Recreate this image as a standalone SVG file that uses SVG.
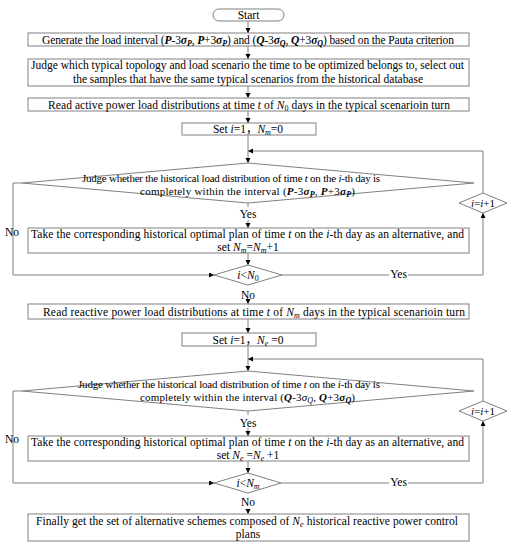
<svg xmlns="http://www.w3.org/2000/svg" width="512" height="550" viewBox="0 0 512 550">
<style>
.box{fill:#fff;stroke:#808080;stroke-width:1}
.ln{fill:none;stroke:#808080;stroke-width:1}
text{font-family:"Liberation Serif","Noto Sans CJK SC",serif;font-size:11.5px;fill:#000}
.c{text-anchor:middle}
.d{font-size:11px}
.bi{font-weight:bold;font-style:italic}
.i{font-style:italic}
.s{font-size:8px}
</style>
<defs>
<marker id="ah" markerUnits="userSpaceOnUse" markerWidth="6" markerHeight="6" refX="5" refY="2.5" orient="auto">
<path d="M0,0 L5,2.5 L0,5 z" fill="#000"/>
</marker>
</defs>
<rect width="512" height="550" fill="#fff"/>
<g id="connectors" class="ln">
<path d="M248,21 V33" marker-end="url(#ah)"/>
<path d="M248,46 V59" marker-end="url(#ah)"/>
<path d="M248,86 V98" marker-end="url(#ah)"/>
<path d="M248,111 V123" marker-end="url(#ah)"/>
<path d="M248,135 V163" marker-end="url(#ah)"/>
<path d="M483,193 V151 H248" marker-end="url(#ah)"/>
<path d="M248,203 V207"/>
<path d="M248,220 V228" marker-end="url(#ah)"/>
<path d="M248,253 V265" marker-end="url(#ah)"/>
<path d="M282,275 H389"/>
<path d="M408,275 H483 V213" marker-end="url(#ah)"/>
<path d="M22,183 H13 V275 H214" marker-end="url(#ah)"/>
<path d="M248,300 V304" marker-end="url(#ah)"/>
<path d="M248,319 V333" marker-end="url(#ah)"/>
<path d="M248,346 V371" marker-end="url(#ah)"/>
<path d="M483,401 V359 H248" marker-end="url(#ah)"/>
<path d="M248,411 V415"/>
<path d="M248,428 V436" marker-end="url(#ah)"/>
<path d="M248,461 V473" marker-end="url(#ah)"/>
<path d="M281,483 H389"/>
<path d="M408,483 H483 V421" marker-end="url(#ah)"/>
<path d="M22,391 H13 V483 H214" marker-end="url(#ah)"/>
<path d="M248,509 V514" marker-end="url(#ah)"/>
</g>
<g id="labels">
<text class="c" x="248" y="218">Yes</text>
<text class="c" x="398.5" y="278">Yes</text>
<text class="c" x="12" y="236">No</text>
<text class="c" x="248" y="299">No</text>
<text class="c" x="248" y="426.5">Yes</text>
<text class="c" x="398.5" y="486">Yes</text>
<text class="c" x="12" y="443">No</text>
<text class="c" x="248" y="506">No</text>
</g>
<g id="start">
<rect class="box" x="213" y="9" width="71" height="12" rx="6"/>
<text class="c" x="248.5" y="19">Start</text>
</g>
<g id="generate">
<rect class="box" x="28" y="33" width="441" height="13"/>
<text x="42" y="43.5" textLength="412" lengthAdjust="spacing">Generate the load interval (<tspan class="bi">P</tspan>-3<tspan class="bi">σ</tspan><tspan class="bi s" dy="2">P</tspan><tspan dy="-2">, </tspan><tspan class="bi">P</tspan>+3<tspan class="bi">σ</tspan><tspan class="bi s" dy="2">P</tspan><tspan dy="-2">)  and (</tspan><tspan class="bi">Q</tspan>-3<tspan class="bi">σ</tspan><tspan class="bi s" dy="2">Q</tspan><tspan dy="-2">, </tspan><tspan class="bi">Q</tspan>+3<tspan class="bi">σ</tspan><tspan class="bi s" dy="2">Q</tspan><tspan dy="-2">) based on the Pauta criterion</tspan></text>
</g>
<g id="judge-scenario">
<rect class="box" x="28" y="59" width="441" height="27"/>
<text x="31" y="69" textLength="433" lengthAdjust="spacing">Judge which typical topology and load scenario the time to be optimized  belongs to, select out</text>
<text x="73" y="82.5" textLength="350" lengthAdjust="spacing">the samples that have the same typical scenarios from the historical database</text>
</g>
<g id="read-active">
<rect class="box" x="28" y="98" width="441" height="13"/>
<text x="48" y="108.5" textLength="402" lengthAdjust="spacing">Read active power load distributions at time <tspan class="i">t</tspan> of <tspan class="i">N</tspan><tspan class="s" dy="2">0</tspan><tspan dy="-2"> days in the typical scenarioin turn</tspan></text>
</g>
<g id="set-nm">
<rect class="box" x="182" y="123" width="134" height="12"/>
<text class="c" x="248" y="133">Set <tspan class="i">i</tspan>=1，<tspan class="i">N</tspan><tspan class="i s" dy="2">m</tspan><tspan dy="-2">=0</tspan></text>
</g>
<g id="judge-p">
<polygon class="box" points="22,183 248,163 474,183 248,203"/>
<text class="d" x="82" y="181.5" textLength="298" lengthAdjust="spacing">Judge whether the historical load distribution of time <tspan class="i">t</tspan> on the <tspan class="i">i</tspan>-th day is</text>
<text class="d" x="140" y="194.5" textLength="215" lengthAdjust="spacing">completely within the interval (<tspan class="bi">P</tspan>-3<tspan class="bi">σ</tspan><tspan class="bi s" dy="2">P</tspan><tspan dy="-2">, </tspan><tspan class="bi">P</tspan>+3<tspan class="bi">σ</tspan><tspan class="bi s" dy="2">P</tspan><tspan dy="-2">)</tspan></text>
</g>
<g id="take-p">
<rect class="box" x="28" y="228" width="441" height="25"/>
<text x="31" y="238" textLength="433" lengthAdjust="spacing">Take the corresponding historical optimal plan of time <tspan class="i">t</tspan> on the <tspan class="i">i</tspan>-th day as an alternative, and</text>
<text class="c" x="248" y="250.5">set <tspan class="i">N</tspan><tspan class="i s" dy="2">m</tspan><tspan dy="-2">=</tspan><tspan class="i">N</tspan><tspan class="i s" dy="2">m</tspan><tspan dy="-2">+1</tspan></text>
</g>
<g id="cond-n0">
<polygon class="box" points="214,275 248,265 282,275 248,285"/>
<text class="c" x="248" y="278.5"><tspan class="i">i</tspan>&lt;<tspan class="i">N</tspan><tspan class="s" dy="2">0</tspan></text>
</g>
<g id="inc-1">
<polygon class="box" points="459,203 483,193 507,203 483,213"/>
<text class="c d" x="483" y="206.5"><tspan class="i">i</tspan>=<tspan class="i">i</tspan>+1</text>
</g>
<g id="read-reactive">
<rect class="box" x="28" y="304" width="441" height="15"/>
<text x="43" y="315.5" textLength="422" lengthAdjust="spacing">Read reactive power load distributions at time <tspan class="i">t</tspan> of <tspan class="i">N</tspan><tspan class="i s" dy="2">m</tspan><tspan dy="-2"> days in the typical scenarioin turn</tspan></text>
</g>
<g id="set-ne">
<rect class="box" x="182" y="333" width="134" height="13"/>
<text class="c" x="248" y="343.5">Set <tspan class="i">i</tspan>=1，<tspan class="i">N</tspan><tspan class="i s" dy="2">e</tspan><tspan dy="-2"> =0</tspan></text>
</g>
<g id="judge-q">
<polygon class="box" points="22,391 248,371 474,391 248,411"/>
<text class="d" x="78" y="388" textLength="302" lengthAdjust="spacing">Judge whether the historical load distribution of time <tspan class="i">t</tspan> on the <tspan class="i">i</tspan>-th day is</text>
<text class="d" x="140" y="401" textLength="215" lengthAdjust="spacing">completely within the interval (<tspan class="bi">Q</tspan>-3<tspan class="i">σ</tspan><tspan class="i s" dy="2">Q</tspan><tspan dy="-2">, </tspan><tspan class="bi">Q</tspan>+3<tspan class="bi">σ</tspan><tspan class="bi s" dy="2">Q</tspan><tspan dy="-2">)</tspan></text>
</g>
<g id="take-q">
<rect class="box" x="28" y="436" width="441" height="25"/>
<text x="31" y="446" textLength="433" lengthAdjust="spacing">Take the corresponding historical optimal plan of time <tspan class="i">t</tspan> on the <tspan class="i">i</tspan>-th day as an alternative, and</text>
<text class="c" x="248" y="458.5">set <tspan class="i">N</tspan><tspan class="i s" dy="2">e</tspan><tspan dy="-2"> =</tspan><tspan class="i">N</tspan><tspan class="i s" dy="2">e</tspan><tspan dy="-2"> +1</tspan></text>
</g>
<g id="cond-nm">
<polygon class="box" points="214,483 248,473 281,483 248,493"/>
<text class="c" x="248" y="486.5"><tspan class="i">i</tspan>&lt;<tspan class="i">N</tspan><tspan class="i s" dy="2">m</tspan></text>
</g>
<g id="inc-2">
<polygon class="box" points="459,411 483,401 507,411 483,421"/>
<text class="c d" x="483" y="414.5"><tspan class="i">i</tspan>=<tspan class="i">i</tspan>+1</text>
</g>
<g id="final">
<rect class="box" x="28" y="514" width="441" height="27"/>
<text x="36" y="524.5" textLength="422" lengthAdjust="spacing">Finally get the set of alternative schemes composed of <tspan class="i">N</tspan><tspan class="i s" dy="2">e</tspan><tspan dy="-2"> historical reactive power control</tspan></text>
<text class="c" x="248" y="538">plans</text>
</g>
</svg>
